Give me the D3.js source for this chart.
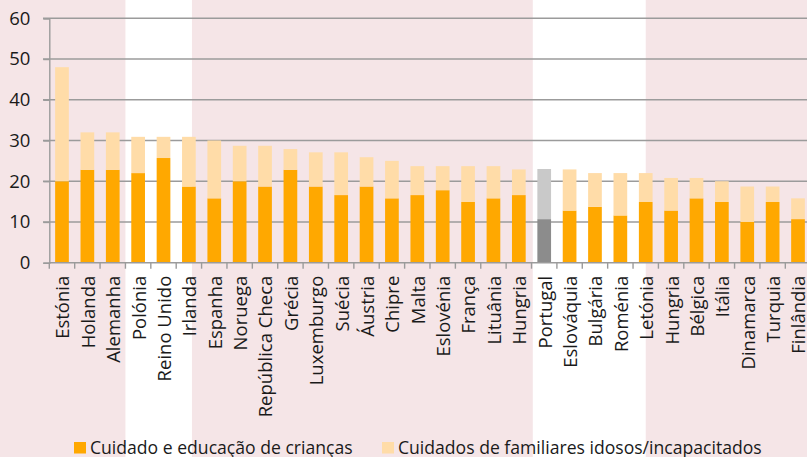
<!DOCTYPE html>
<html>
<head>
<meta charset="utf-8">
<script src="https://cdn.jsdelivr.net/npm/d3@7"></script>
<style>
  body { margin: 0; background: #fff; }
  svg { display: block; font-family: "Open Sans", sans-serif; }
</style>
</head>
<body>
<div id="chart"></div>
<script>
// data
var paises = ['Estónia', 'Holanda', 'Alemanha', 'Polónia', 'Reino Unido', 'Irlanda', 'Espanha', 'Noruega',
  'República Checa', 'Grécia', 'Luxemburgo', 'Suécia', 'Áustria', 'Chipre', 'Malta', 'Eslovénia', 'França',
  'Lituânia', 'Hungria', 'Portugal', 'Eslováquia', 'Bulgária', 'Roménia', 'Letónia', 'Hungria', 'Bélgica',
  'Itália', 'Dinamarca', 'Turquia', 'Finlândia']
var criancas = [20.0, 22.8, 22.8, 22.0, 25.7, 18.7, 15.8, 20.0, 18.7, 22.8, 18.7, 16.6, 18.7, 15.8, 16.6, 17.8,
  14.9, 15.8, 16.6, 10.7, 12.8, 13.7, 11.6, 14.9, 12.8, 15.8, 14.9, 10.0, 14.9, 10.7]
var idosos = [28.0, 9.2, 9.2, 8.9, 5.2, 12.2, 14.2, 8.7, 10.0, 5.1, 8.4, 10.5, 7.2, 9.2, 7.1, 5.9,
  8.8, 7.9, 6.3, 12.3, 10.1, 8.3, 10.4, 7.1, 8.0, 5.0, 5.1, 8.7, 3.8, 5.1]
var yTicks = [0, 10, 20, 30, 40, 50, 60]
var series = ['Cuidado e educação de crianças', 'Cuidados de familiares idosos/incapacitados']
var destaque = 'Portugal'

var width = 807, height = 457
var cores = ['#ffa800', '#ffdca8']
var coresDestaque = ['#8c8c8c', '#c9c9c9']

var svg = d3.select('#chart').append('svg')
  .attr('width', width)
  .attr('height', height)

var x = d3.scaleBand()
  .domain(d3.range(paises.length))
  .range([49.3, 810.7])
  .paddingInner(0.46)
  .paddingOuter(0.23)

var y = d3.scaleLinear()
  .domain([0, 60])
  .range([262.7, 18.3])

// fundo rosa com duas faixas brancas (em unidades de categoria)
var step = x.step()
svg.append('rect')
  .attr('width', width).attr('height', height)
  .attr('fill', '#f5e5e7')
var faixas = [[3, 5.62], [19.05, 23.5]]
svg.selectAll('rect.faixa')
  .data(faixas)
  .join('rect')
    .attr('class', 'faixa')
    .attr('x', d => 49.3 + d[0] * step)
    .attr('width', d => (d[1] - d[0]) * step)
    .attr('y', 0)
    .attr('height', height)
    .attr('fill', '#ffffff')

// grelha
svg.append('g')
  .selectAll('line')
  .data(yTicks.slice(1))
  .join('line')
    .attr('x1', 43)
    .attr('x2', width)
    .attr('y1', d => y(d))
    .attr('y2', d => y(d))
    .attr('stroke', '#9b9b9b')
    .attr('stroke-width', 1.4)

var yAxis = d3.axisLeft(y)
  .tickValues(yTicks)
  .tickSize(6)
  .tickPadding(13)
svg.append('g')
  .attr('transform', 'translate(49.3,0)')
  .call(yAxis)
  .call(g => g.select('.domain').attr('stroke', '#9b9b9b').attr('stroke-width', 1.4))
  .call(g => g.selectAll('.tick line').attr('stroke', '#9b9b9b').attr('stroke-width', 1.4))
  .call(g => g.selectAll('text')
    .attr('font-family', '"Open Sans", sans-serif')
    .attr('font-size', 18.5)
    .attr('fill', '#1a1a1a'))

// barras empilhadas
var stack = paises.map((p, i) => ({ i: i, nome: p, a: criancas[i], b: idosos[i] }))
var bars = svg.append('g')
bars.selectAll('rect.criancas')
  .data(stack)
  .join('rect')
    .attr('class', 'criancas')
    .attr('x', d => x(d.i))
    .attr('width', x.bandwidth())
    .attr('y', d => y(d.a))
    .attr('height', d => y(0) - y(d.a))
    .attr('fill', d => d.nome == destaque ? coresDestaque[0] : cores[0])
bars.selectAll('rect.idosos')
  .data(stack)
  .join('rect')
    .attr('class', 'idosos')
    .attr('x', d => x(d.i))
    .attr('width', x.bandwidth())
    .attr('y', d => y(d.a + d.b))
    .attr('height', d => y(d.a) - y(d.a + d.b))
    .attr('fill', d => d.nome == destaque ? coresDestaque[1] : cores[1])

// eixo x
var xg = svg.append('g')
xg.append('line')
  .attr('x1', 49.3).attr('x2', width)
  .attr('y1', y(0)).attr('y2', y(0))
  .attr('stroke', '#9b9b9b').attr('stroke-width', 1.4)
xg.selectAll('line.tick')
  .data(d3.range(paises.length + 1))
  .join('line')
    .attr('class', 'tick')
    .attr('x1', d => 49.3 + d * step)
    .attr('x2', d => 49.3 + d * step)
    .attr('y1', y(0))
    .attr('y2', y(0) + 6)
    .attr('stroke', '#9b9b9b').attr('stroke-width', 1.4)
xg.selectAll('text')
  .data(stack)
  .join('text')
    .attr('transform', d => `translate(${x(d.i) + x.bandwidth() / 2},${y(0)}) rotate(-90)`)
    .attr('x', -13)
    .attr('dy', '0.4em')
    .attr('text-anchor', 'end')
    .attr('font-size', 18.5)
    .attr('fill', '#1a1a1a')
    .text(d => d.nome)

// legenda
var legX = [74, 382]
var leg = svg.append('g')
  .selectAll('g')
  .data(series)
  .join('g')
    .attr('transform', (d, i) => `translate(${legX[i]},442)`)
leg.append('rect')
  .attr('width', 12).attr('height', 11.5)
  .attr('fill', (d, i) => cores[i])
leg.append('text')
  .attr('x', 16)
  .attr('y', 12)
  .attr('font-size', 17.6)
  .attr('fill', '#1a1a1a')
  .text(d => d)
</script>
</body>
</html>
